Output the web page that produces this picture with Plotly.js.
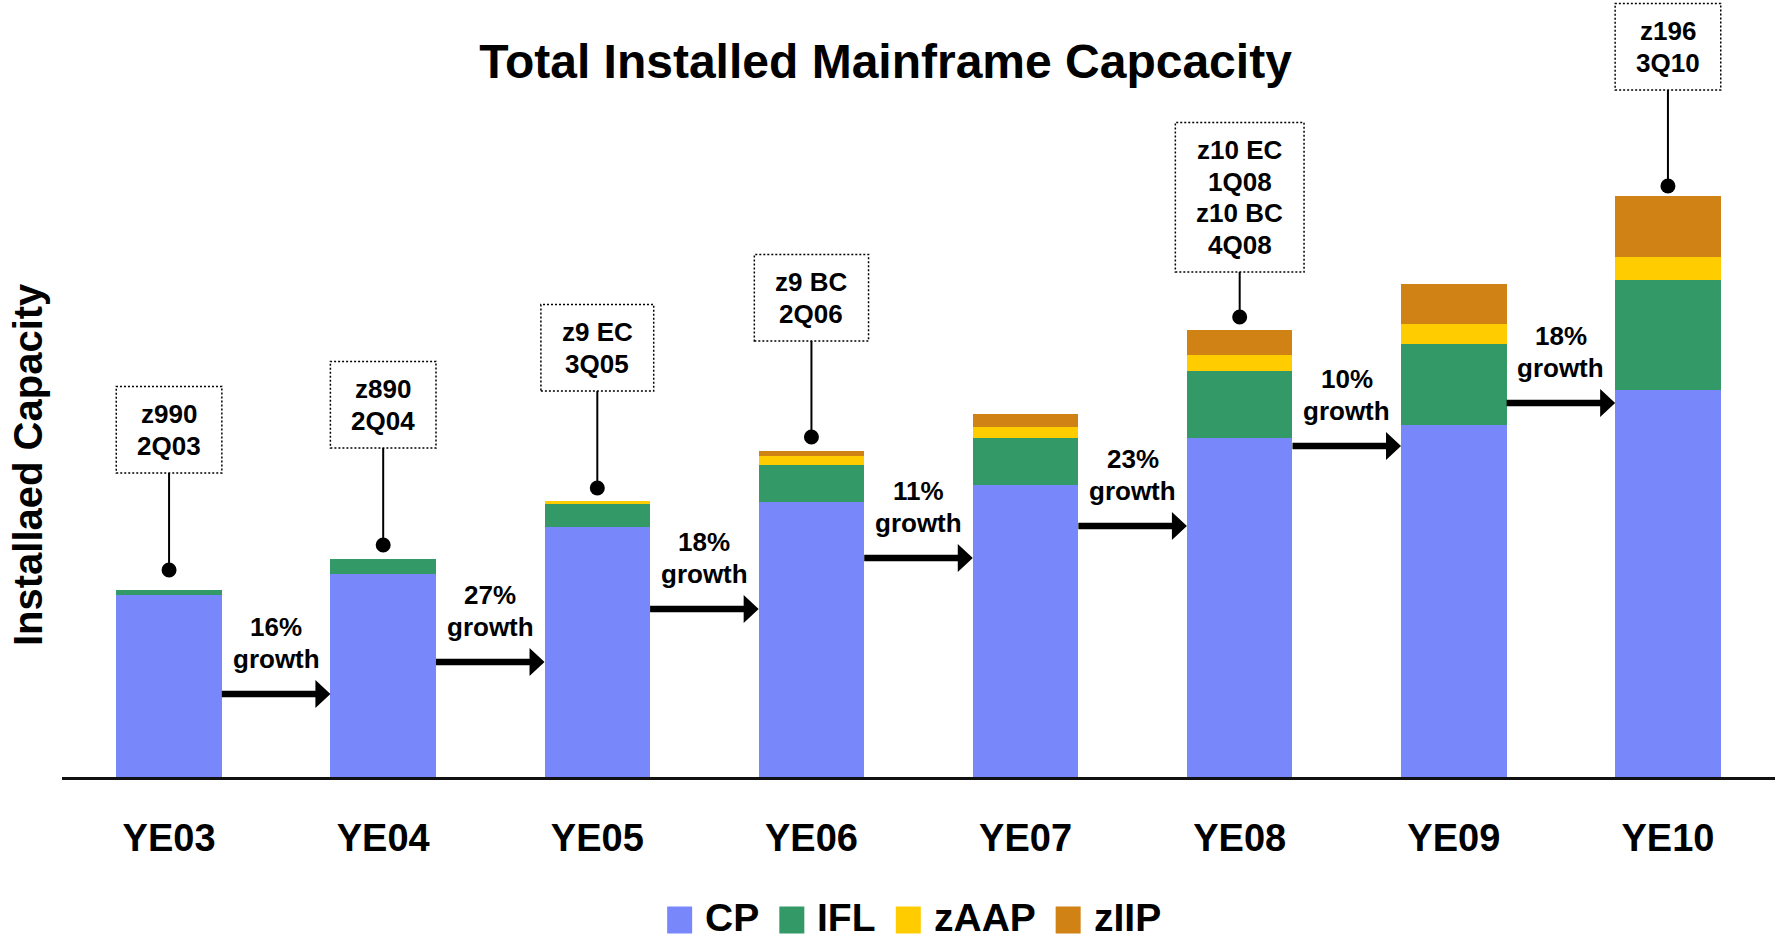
<!DOCTYPE html>
<html><head><meta charset="utf-8">
<script src="https://cdn.plot.ly/plotly-3.0.1.min.js"></script>
<style>html,body{margin:0;padding:0;background:#fff}</style>
</head><body>
<div id="chart" style="width:1781px;height:942px"></div>
<script>
// ---------------- DATA ----------------
const categories = ['YE03','YE04','YE05','YE06','YE07','YE08','YE09','YE10'];
const seriesNames = ['CP','IFL','zAAP','zIIP'];
const cpValues   = [182, 203, 250, 275, 292, 339, 352, 387];
const iflValues  = [5, 15, 23, 37, 47, 67, 81, 110];
const zaapValues = [0, 0, 3, 9, 11, 16, 20, 23];
const ziipValues = [0, 0, 0, 5, 13, 25, 40, 61];
const growthPct  = [16, 27, 18, 11, 23, 10, 18];
const calloutCategories = ['YE03','YE04','YE05','YE06','YE08','YE10'];
const calloutLabels = [
  ['z990','2Q03'], ['z890','2Q04'], ['z9 EC','3Q05'], ['z9 BC','2Q06'],
  ['z10 EC','1Q08','z10 BC','4Q08'], ['z196','3Q10']
];
const chartTitle = 'Total Installed Mainframe Capcacity';
const yTitle = 'Installaed Capacity';

// ---------------- STYLE / LAYOUT ----------------
const colors = ['#7888FA','#339966','#FFCC00','#D18214'];
const FONT = '"Liberation Sans", Arial, sans-serif';
const W = 1781, H = 942;
const M = {l: 62, r: 6, t: 0, b: 165};
const plotW = W - M.l - M.r, plotH = H - M.t - M.b;
const Y_TOP = 777;                 // y-axis range top
const BARGAP = 0.507;
// vertical level (axis units) of each growth arrow
const arrowLevels = [83, 115, 168, 219, 251, 331, 374];
// callout offsets in pixels above bar top: dot centre and box bottom
const calloutDot = [20, 14, 13, 14, 13, 10];
const calloutBoxBottom = [117, 111, 110, 110, 58, 106];
const LINE_SP = 31.5, BOX_PAD = 27.5, BOX_HPAD = 21;

const ctx = document.createElement('canvas').getContext('2d');
function textW(s, size) { ctx.font = 'bold ' + size + 'px "Liberation Sans"'; return ctx.measureText(s).width; }

const seriesValues = [cpValues, iflValues, zaapValues, ziipValues];
const totals = categories.map((c, i) => seriesValues.reduce((s, arr) => s + arr[i], 0));

const traces = seriesValues.map((vals, k) => ({
  type: 'bar', name: seriesNames[k], x: categories, y: vals,
  marker: {color: colors[k], line: {width: 0}},
  showlegend: false, hoverinfo: 'skip'
}));

const shapes = [];
const annotations = [];
const txtFont = {family: FONT, size: 26, color: '#000', weight: 'bold'};

// callouts
calloutCategories.forEach((cat, k) => {
  const idx = categories.indexOf(cat);
  const tot = totals[idx];
  const lines = calloutLabels[k];
  const dot = calloutDot[k], bb = calloutBoxBottom[k];
  const n = lines.length;
  const boxH = 2 * BOX_PAD + (n - 1) * LINE_SP;
  const bw = Math.max(...lines.map(s => textW(s, 26))) + 2 * BOX_HPAD;
  shapes.push({type: 'circle', xref: 'x', yref: 'y', xsizemode: 'pixel', ysizemode: 'pixel',
    xanchor: idx, yanchor: tot, x0: -7.5, x1: 7.5, y0: dot - 7.5, y1: dot + 7.5,
    fillcolor: '#000', line: {width: 0}});
  shapes.push({type: 'line', xref: 'x', yref: 'y', xsizemode: 'pixel', ysizemode: 'pixel',
    xanchor: idx, yanchor: tot, x0: 0, x1: 0, y0: dot, y1: bb, line: {color: '#000', width: 2}});
  shapes.push({type: 'rect', xref: 'x', yref: 'y', xsizemode: 'pixel', ysizemode: 'pixel',
    xanchor: idx, yanchor: tot, x0: -bw / 2, x1: bw / 2, y0: bb, y1: bb + boxH,
    fillcolor: 'rgba(0,0,0,0)', line: {color: '#000', width: 1.5, dash: '2px,2px'}});
  lines.forEach((s, j) => {
    annotations.push({x: idx, y: tot, xref: 'x', yref: 'y', text: s, showarrow: false,
      xanchor: 'center', yanchor: 'middle', yshift: bb + BOX_PAD + (n - 1 - j) * LINE_SP,
      font: txtFont});
  });
});

// growth arrows
const catPx = plotW / categories.length;
const hg = BARGAP * catPx / 2;
growthPct.forEach((g, i) => {
  const hl = 15, hh = 14, st = 3.25;
  const p = `M${-hg},${-st}L${hg - hl},${-st}L${hg - hl},${-hh}L${hg},0L${hg - hl},${hh}L${hg - hl},${st}L${-hg},${st}Z`;
  shapes.push({type: 'path', xref: 'x', yref: 'y', xsizemode: 'pixel', ysizemode: 'pixel',
    xanchor: i + 0.5, yanchor: arrowLevels[i], path: p, fillcolor: '#000', line: {width: 0}});
  annotations.push({x: i + 0.5, y: arrowLevels[i], xref: 'x', yref: 'y', text: g + '%', showarrow: false,
    xanchor: 'center', yanchor: 'middle', yshift: 67, font: txtFont});
  annotations.push({x: i + 0.5, y: arrowLevels[i], xref: 'x', yref: 'y', text: 'growth', showarrow: false,
    xanchor: 'center', yanchor: 'middle', yshift: 35, font: txtFont});
});

// y axis title
annotations.push({xref: 'paper', yref: 'paper', x: (28 - M.l) / plotW, y: (Y_TOP - 465) / plotH,
  text: yTitle, textangle: -90, showarrow: false, xanchor: 'center', yanchor: 'middle',
  font: {family: FONT, size: 40, color: '#000', weight: 'bold'}});

// manual legend
const LEG_FONT = 39, SW = 25, SW_H = 27, GAP_IN = 11, GAP_OUT = 22, LEG_CX = 913, LEG_CY = 917;
const legW = seriesNames.map(s => textW(s, LEG_FONT));
const legTotal = legW.reduce((a, w) => a + SW + GAP_IN + w, 0) + GAP_OUT * (seriesNames.length - 1);
let lx = LEG_CX - legTotal / 2;
const px2x = px => (px - M.l) / plotW;
const px2y = py => (Y_TOP - py) / plotH;
seriesNames.forEach((s, k) => {
  shapes.push({type: 'rect', xref: 'paper', yref: 'paper', x0: px2x(lx), x1: px2x(lx + SW),
    y0: px2y(LEG_CY - SW_H / 2 + 3), y1: px2y(LEG_CY + SW_H / 2 + 3), fillcolor: colors[k], line: {width: 0}});
  annotations.push({xref: 'paper', yref: 'paper', x: px2x(lx + SW + GAP_IN), y: px2y(LEG_CY),
    text: s, showarrow: false, xanchor: 'left', yanchor: 'middle',
    font: {family: FONT, size: LEG_FONT, color: '#000', weight: 'bold'}});
  lx += SW + GAP_IN + legW[k] + GAP_OUT;
});

const layout = {
  width: W, height: H, margin: M,
  paper_bgcolor: '#fff', plot_bgcolor: '#fff',
  barmode: 'stack', bargap: BARGAP,
  showlegend: false,
  title: {text: chartTitle, xref: 'container', yref: 'container', x: 885.5 / W, xanchor: 'center',
    y: 1 - 61 / H, yanchor: 'middle',
    font: {family: FONT, size: 48, color: '#000', weight: 'bold'}},
  xaxis: {type: 'category', range: [-0.5, categories.length - 0.5], showgrid: false, zeroline: false,
    showline: true, linecolor: '#111', linewidth: 2.5, ticks: 'outside', ticklen: 26,
    tickcolor: 'rgba(0,0,0,0)', tickfont: {family: FONT, size: 38, color: '#000', weight: 'bold'},
    fixedrange: true},
  yaxis: {range: [0, Y_TOP], visible: false, showgrid: false, zeroline: false, fixedrange: true},
  shapes: shapes, annotations: annotations
};

Plotly.newPlot('chart', traces, layout, {displayModeBar: false, staticPlot: true});
</script>
</body></html>
